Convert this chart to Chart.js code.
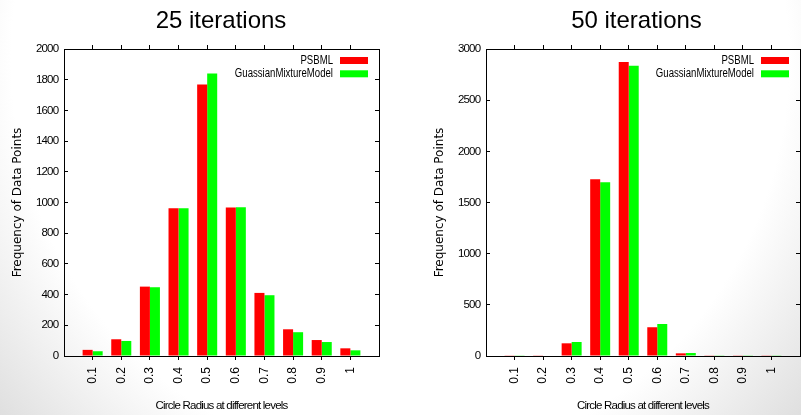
<!DOCTYPE html>
<html>
<head>
<meta charset="utf-8">
<script src="https://cdn.jsdelivr.net/npm/chart.js@4.4.1/dist/chart.umd.min.js"></script>
<style>
  html, body { margin: 0; padding: 0; }
  body {
    width: 801px; height: 415px; overflow: hidden; position: relative;
    background: radial-gradient(ellipse 540px 560px at 400px 60px, #ffffff 72%, #dcdcdc 100%);
  }
  canvas { position: absolute; top: 0; }
  #chart25 { left: 0; }
  #chart50 { left: 422px; }
</style>
</head>
<body>
<canvas id="chart25" width="442" height="415"></canvas>
<canvas id="chart50" width="429" height="415"></canvas>
<script>
// circle radius levels (x categories)
const categories = ['0.1', '0.2', '0.3', '0.4', '0.5', '0.6', '0.7', '0.8', '0.9', '1'];

// 25 iterations
const psbml25 = [40, 109, 452, 963, 1769, 967, 411, 174, 104, 50];
const gmm25 = [31, 98, 448, 963, 1841, 969, 396, 155, 91, 37];

// 50 iterations
const psbml50 = [3, 3, 124, 1728, 2872, 281, 26, 3, 3, 3];
const gmm50 = [3, 5, 137, 1699, 2836, 313, 29, 3, 3, 3];

// y axis tick ranges
const yMax25 = 2000, yStep25 = 200;
const yMax50 = 3000, yStep50 = 500;

const seriesNames = ['PSBML', 'GuassianMixtureModel'];
const seriesColors = ['#ff0000', '#00ff00'];

const sans = '"Liberation Sans", Arial, sans-serif';

// hide the tick marks at the two ends of the x range
function edgeTickColor(ctx) {
    const v = ctx.tick ? ctx.tick.value : 0;
    return (v < 0.05 || v > 1.05) ? 'rgba(0,0,0,0)' : '#000';
}

// gnuplot's labels are condensed: tighten the text drawn after the bars
// (y tick labels, x axis title), then draw the legend inside the plot
const gnuplotLook = {
    id: 'gnuplotLook',
    afterDatasetsDraw(chart) {
        chart.ctx.letterSpacing = '-0.8px';
    },
    afterDraw(chart) {
        const { ctx, chartArea } = chart;
        ctx.letterSpacing = '0px';
        ctx.save();
        ctx.font = '12px ' + sans;
        ctx.textAlign = 'right';
        ctx.textBaseline = 'middle';
        chart.data.datasets.forEach((ds, i) => {
            const y = chartArea.top + 11.5 + i * 13.3;
            const boxRight = chartArea.right - 11;
            ctx.fillStyle = ds.backgroundColor;
            ctx.fillRect(boxRight - 28, y - 3.5, 28, 7);
            ctx.fillStyle = '#000';
            const w = ctx.measureText(ds.label).width * 0.8;
            ctx.fillText(ds.label, boxRight - 35, y, w);
        });
        ctx.restore();
    }
};

function buildChart(id, title, psbml, gmm, yMax, yStep, yWidth, y2Width) {
    const toPoints = vals => categories.map((c, i) => ({ x: Number(c), y: vals[i] }));
    const border = { display: true, color: '#000', width: 1 };

    new Chart(document.getElementById(id), {
        type: 'bar',
        data: {
            datasets: [psbml, gmm].map((vals, i) => ({
                label: seriesNames[i],
                data: toPoints(vals),
                backgroundColor: seriesColors[i],
                borderWidth: 0,
                categoryPercentage: 0.7,
                barPercentage: 1.0
            }))
        },
        options: {
            responsive: false,
            animation: false,
            devicePixelRatio: 1,
            layout: { padding: 0 },
            plugins: {
                legend: { display: false },
                tooltip: { enabled: false },
                title: {
                    display: true,
                    text: title,
                    color: '#000',
                    font: { family: sans, size: 24, weight: 'normal' },
                    padding: { top: 7, bottom: 9.2 }
                }
            },
            scales: {
                x: {
                    type: 'linear',
                    position: 'bottom',
                    min: 0, max: 1.1,
                    offset: false,
                    grid: { drawOnChartArea: false, offset: false, tickLength: 4, color: edgeTickColor, z: 1 },
                    border: { display: true, color: '#000', width: 1, z: 1 },
                    ticks: {
                        stepSize: 0.1,
                        maxTicksLimit: 100,
                        autoSkip: false,
                        minRotation: 90, maxRotation: 90,
                        padding: 7,
                        color: '#000',
                        font: { family: sans, size: 12 },
                        callback: v => (v > 0.05 && v < 1.05) ? String(Math.round(v * 10) / 10) : ''
                    },
                    title: {
                        display: true,
                        text: 'Circle Radius at different levels',
                        color: '#000',
                        font: { family: sans, size: 11.5 },
                        padding: { top: 0, bottom: 2.6 }
                    },
                    afterFit: s => { s.height = 59; }
                },
                x2: {
                    type: 'linear',
                    position: 'top',
                    min: 0, max: 1.1,
                    offset: false,
                    grid: { drawOnChartArea: false, offset: false, tickLength: 4, color: edgeTickColor },
                    border: border,
                    ticks: { display: false, stepSize: 0.1, maxTicksLimit: 100 }
                },
                y: {
                    position: 'left',
                    min: 0, max: yMax,
                    grid: { drawOnChartArea: false, tickLength: -4, color: '#000' },
                    border: border,
                    ticks: {
                        z: 1,
                        stepSize: yStep,
                        maxTicksLimit: 100,
                        padding: 9.7,
                        color: '#000',
                        font: { family: sans, size: 11.5 },
                        callback: v => String(v)
                    },
                    title: {
                        display: true,
                        text: 'Frequency of Data Points',
                        color: '#000',
                        font: { family: '"DejaVu Sans", sans-serif', size: 12 },
                        padding: { top: 10.3, bottom: 0 }
                    },
                    afterFit: s => { s.width = yWidth; }
                },
                y2: {
                    position: 'right',
                    min: 0, max: yMax,
                    grid: { drawOnChartArea: false, tickLength: -4, color: '#000' },
                    border: border,
                    ticks: { display: false, stepSize: yStep, maxTicksLimit: 100 },
                    afterFit: s => { s.width = y2Width; }
                }
            }
        },
        plugins: [gnuplotLook]
    });
}

buildChart('chart25', '25 iterations', psbml25, gmm25, yMax25, yStep25, 64, 63);
buildChart('chart50', '50 iterations', psbml50, gmm50, yMax50, yStep50, 64, 51);
</script>
</body>
</html>
